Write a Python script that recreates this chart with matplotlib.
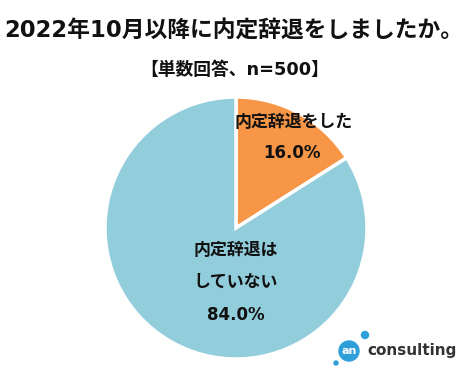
import matplotlib
matplotlib.use("Agg")
import matplotlib.pyplot as plt
from matplotlib.patches import Circle

plt.rcParams['font.family'] = ['DejaVu Sans', 'Noto Sans CJK JP']

title = "2022年10月以降に内定辞退をしましたか。"
subtitle = "【単数回答、n=500】"
categories = ["内定辞退をした", "内定辞退は\nしていない"]
values = [16.0, 84.0]
colors = ["#F79646", "#92CDDC"]

W, H = 470, 376
fig = plt.figure(figsize=(W / 100, H / 100), dpi=100)
ax = fig.add_axes([0, 0, 1, 1])

def Y(y):
    return H - y

cx, cy, r = 236, 228, 131
ax.pie(values, colors=colors, startangle=90, counterclock=False,
       center=(cx, Y(cy)), radius=r,
       wedgeprops=dict(edgecolor='white', linewidth=2.5))
ax.set_xlim(0, W)
ax.set_ylim(0, H)
ax.set_aspect('equal')
ax.axis('off')

tc = '#111111'
ax.text(W / 2 - 1, Y(31), title, ha='center', va='center', fontsize=16.4, fontweight='bold', color=tc)
ax.text(W / 2, Y(70), subtitle, ha='center', va='center', fontsize=12.8, fontweight='bold', color=tc)

ax.text(294, Y(122), categories[0], ha='center', va='center', fontsize=12.2, fontweight='bold', color=tc)
ax.text(292, Y(153), f"{values[0]:.1f}%", ha='center', va='center', fontsize=12, fontweight='bold', color=tc)

lines = categories[1].split("\n")
ax.text(236, Y(250), lines[0], ha='center', va='center', fontsize=12.2, fontweight='bold', color=tc)
ax.text(236, Y(282), lines[1], ha='center', va='center', fontsize=12.2, fontweight='bold', color=tc)
ax.text(236, Y(315), f"{values[1]:.1f}%", ha='center', va='center', fontsize=12, fontweight='bold', color=tc)

# logo
ax.add_patch(Circle((349, Y(351)), 10, color='#2E9FD8', zorder=5))
ax.add_patch(Circle((365, Y(335)), 3.5, color='#2E9FD8', zorder=5))
ax.add_patch(Circle((336, Y(363)), 2, color='#2E9FD8', zorder=5))
ax.text(349, Y(351), "an", ha='center', va='center', fontsize=8, fontweight='bold', color='white', zorder=6)
ax.text(367, Y(350), "consulting", ha='left', va='center', fontsize=11, fontweight='bold', color='#333333', zorder=6)

fig.savefig("out.png", dpi=100, facecolor='white')
